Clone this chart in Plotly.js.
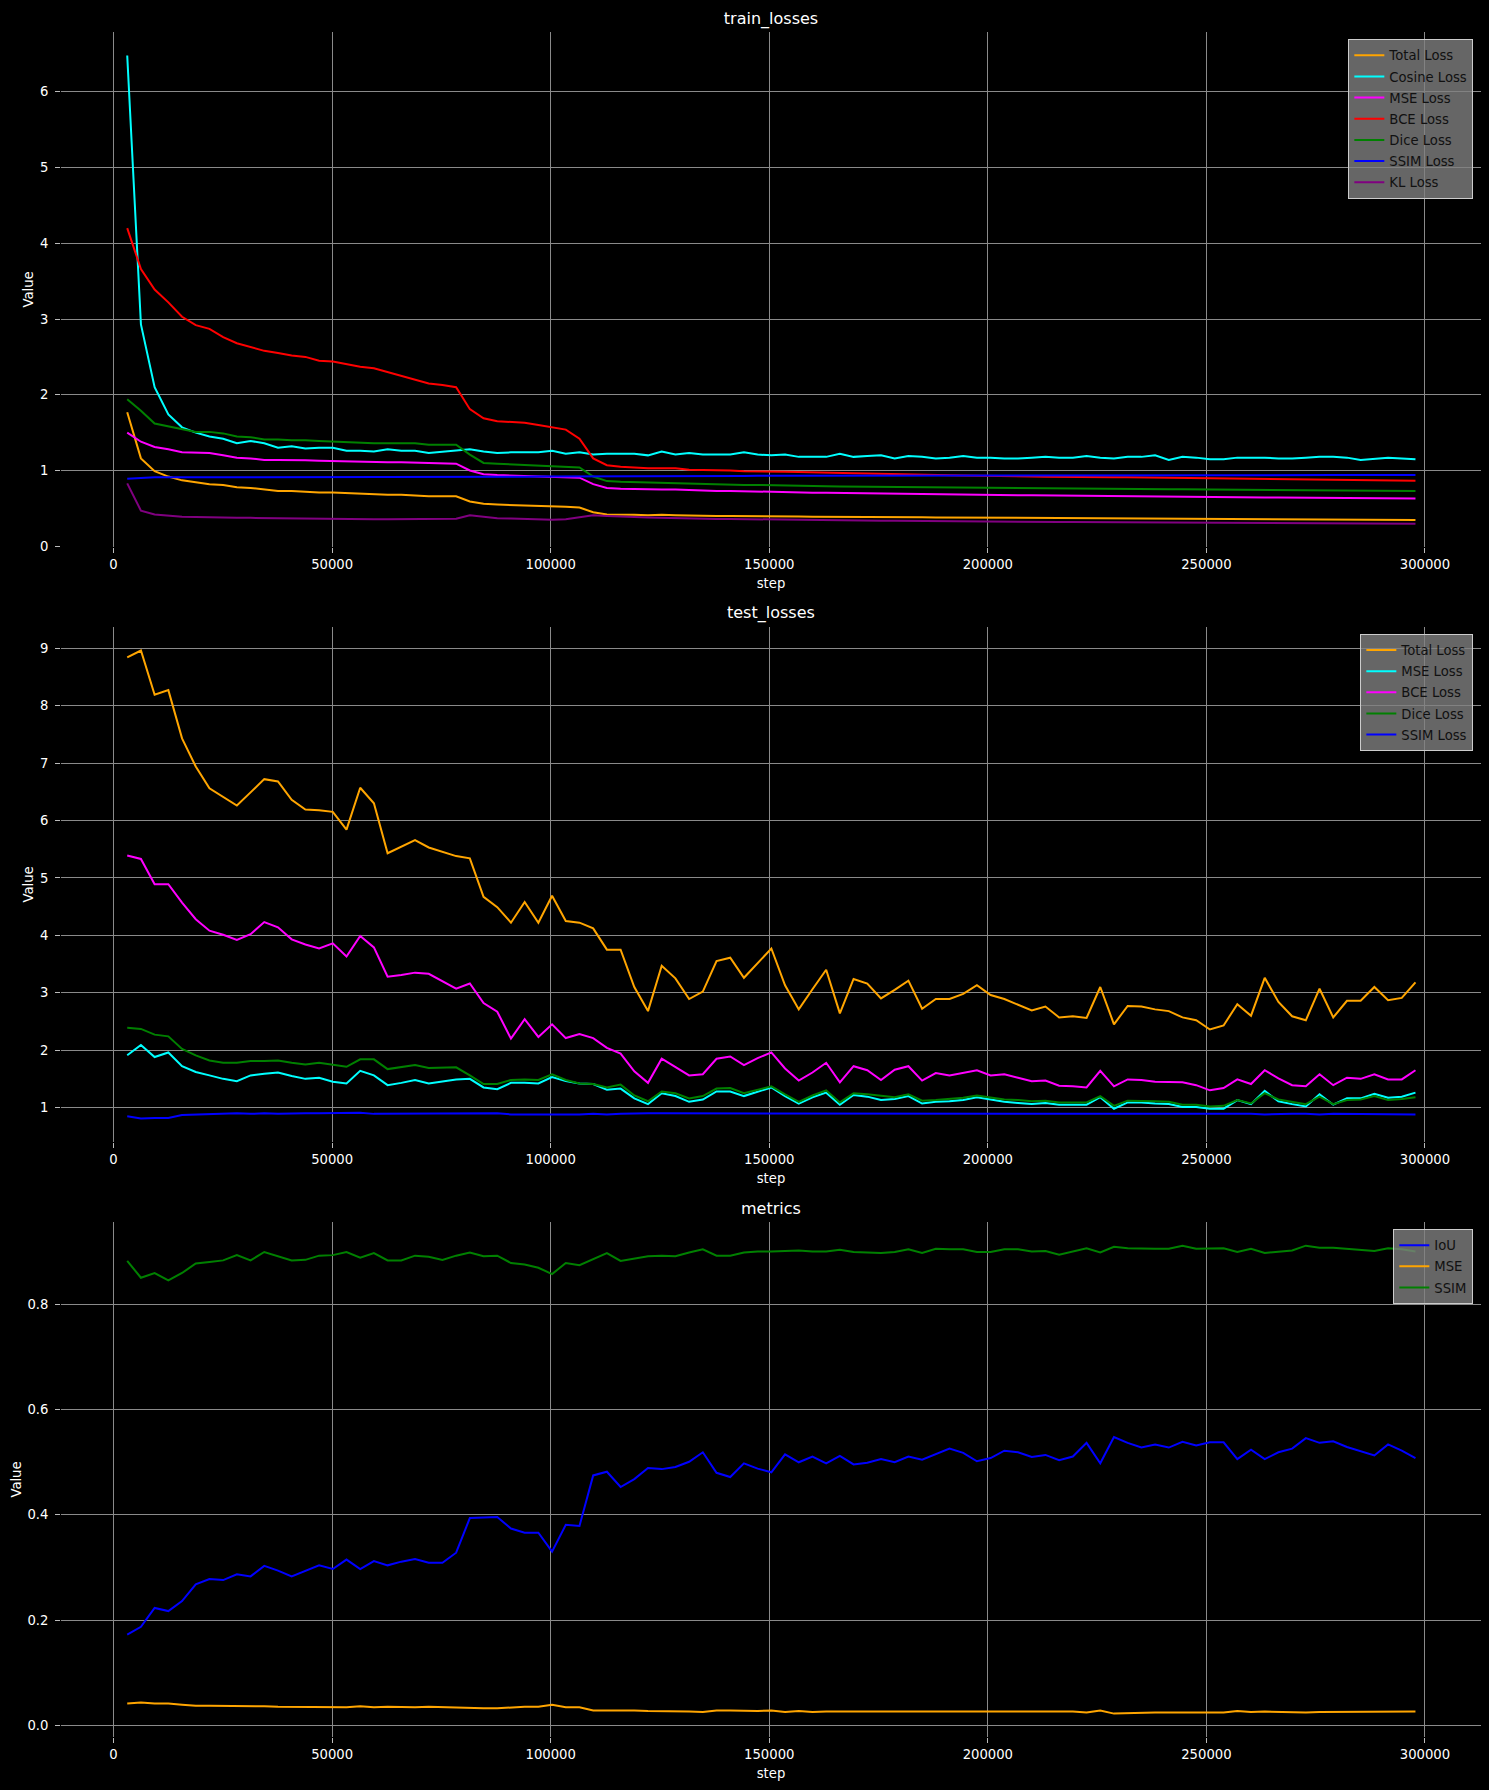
<!DOCTYPE html>
<html>
<head>
<meta charset="utf-8">
<script src="https://cdn.plot.ly/plotly-3.0.1.min.js"></script>
<style>
html, body { margin: 0; padding: 0; background: #000; }
#chart { width: 1489px; height: 1790px; }
</style>
</head>
<body>
<div id="chart"></div>
<script>
// ---------------- data ----------------
const steps = [
  3135, 6270, 9405, 12540, 15675, 18810, 21945, 25080, 28215, 31350,
  34485, 37620, 40755, 43890, 47025, 50160, 53295, 56430, 59565, 62700,
  65835, 68970, 72105, 75240, 78375, 81510, 84645, 87780, 90915, 94050,
  97185, 100320, 103455, 106590, 109725, 112860, 115995, 119130, 122265, 125400,
  128535, 131670, 134805, 137940, 141075, 144210, 147345, 150480, 153615, 156750,
  159885, 163020, 166155, 169290, 172425, 175560, 178695, 181830, 184965, 188100,
  191235, 194370, 197505, 200640, 203775, 206910, 210045, 213180, 216315, 219450,
  222585, 225720, 228855, 231990, 235125, 238260, 241395, 244530, 247665, 250800,
  253935, 257070, 260205, 263340, 266475, 269610, 272745, 275880, 279015, 282150,
  285285, 288420, 291555, 294690, 297825
];

// train_losses
const trainTotal = [
  1.77, 1.16, 0.99, 0.92, 0.87, 0.84, 0.82, 0.81, 0.78, 0.77,
  0.75, 0.73, 0.73, 0.72, 0.71, 0.71, 0.70, 0.69, 0.69, 0.68,
  0.68, 0.67, 0.66, 0.66, 0.66, 0.59, 0.56, 0.55, 0.545, 0.54,
  0.53, 0.53, 0.52, 0.51, 0.45, 0.42, 0.42, 0.415, 0.41, 0.415,
  0.41, 0.405, 0.405, 0.40, 0.40, 0.40, 0.395, 0.395, 0.393, 0.392,
  0.39, 0.39, 0.388, 0.387, 0.386, 0.385, 0.384, 0.383, 0.382, 0.38,
  0.379, 0.378, 0.377, 0.376, 0.375, 0.374, 0.373, 0.372, 0.371, 0.37,
  0.369, 0.368, 0.367, 0.367, 0.366, 0.365, 0.368, 0.363, 0.362, 0.36,
  0.359, 0.358, 0.358, 0.357, 0.356, 0.356, 0.355, 0.355, 0.354, 0.353,
  0.352, 0.351, 0.35, 0.349, 0.348
];
const trainCosine = [
  6.48, 2.93, 2.10, 1.74, 1.57, 1.50, 1.45, 1.42, 1.36, 1.39,
  1.36, 1.30, 1.32, 1.29, 1.30, 1.30, 1.26, 1.26, 1.25, 1.28,
  1.26, 1.26, 1.23, 1.25, 1.26, 1.28, 1.25, 1.23, 1.24, 1.24,
  1.24, 1.26, 1.22, 1.24, 1.21, 1.22, 1.22, 1.22, 1.20, 1.25,
  1.21, 1.23, 1.21, 1.21, 1.21, 1.24, 1.21, 1.20, 1.21, 1.18,
  1.18, 1.18, 1.22, 1.18, 1.19, 1.20, 1.16, 1.19, 1.18, 1.16,
  1.17, 1.19, 1.17, 1.17, 1.16, 1.16, 1.17, 1.18, 1.17, 1.17,
  1.19, 1.17, 1.16, 1.18, 1.18, 1.20, 1.14, 1.18, 1.17, 1.15,
  1.15, 1.17, 1.17, 1.17, 1.16, 1.16, 1.17, 1.18, 1.18, 1.17,
  1.14, 1.15, 1.17, 1.16, 1.15
];
const trainMSE = [
  1.50, 1.38, 1.31, 1.28, 1.24, 1.23, 1.23, 1.20, 1.17, 1.16,
  1.14, 1.14, 1.14, 1.135, 1.13, 1.125, 1.12, 1.12, 1.115, 1.11,
  1.11, 1.105, 1.10, 1.095, 1.09, 1.00, 0.95, 0.94, 0.935, 0.93,
  0.92, 0.915, 0.91, 0.905, 0.82, 0.77, 0.76, 0.755, 0.75, 0.75,
  0.75, 0.74, 0.735, 0.73, 0.73, 0.725, 0.72, 0.715, 0.712, 0.71,
  0.707, 0.705, 0.702, 0.70, 0.698, 0.695, 0.693, 0.69, 0.688, 0.686,
  0.684, 0.682, 0.68, 0.678, 0.676, 0.674, 0.672, 0.67, 0.668, 0.667,
  0.666, 0.664, 0.662, 0.66, 0.659, 0.658, 0.656, 0.655, 0.654, 0.652,
  0.65, 0.648, 0.647, 0.645, 0.644, 0.642, 0.641, 0.64, 0.638, 0.637,
  0.636, 0.634, 0.633, 0.632, 0.63
];
const trainBCE = [
  4.20, 3.66, 3.39, 3.22, 3.03, 2.92, 2.87, 2.76, 2.68, 2.63,
  2.58, 2.55, 2.52, 2.50, 2.45, 2.44, 2.40, 2.37, 2.35, 2.30,
  2.26, 2.21, 2.15, 2.13, 2.10, 1.81, 1.69, 1.65, 1.64, 1.63,
  1.60, 1.57, 1.54, 1.42, 1.16, 1.07, 1.05, 1.04, 1.03, 1.03,
  1.03, 1.01, 1.01, 1.00, 1.00, 0.99, 0.99, 0.99, 0.985, 0.98,
  0.978, 0.975, 0.97, 0.965, 0.96, 0.955, 0.952, 0.95, 0.945, 0.94,
  0.937, 0.935, 0.93, 0.925, 0.922, 0.92, 0.92, 0.918, 0.915, 0.915,
  0.913, 0.912, 0.91, 0.91, 0.908, 0.905, 0.902, 0.905, 0.902, 0.90,
  0.895, 0.893, 0.892, 0.89, 0.888, 0.885, 0.882, 0.883, 0.88, 0.878,
  0.875, 0.87, 0.868, 0.866, 0.865
];
const trainDice = [
  1.94, 1.79, 1.62, 1.58, 1.54, 1.51, 1.51, 1.49, 1.45, 1.44,
  1.41, 1.41, 1.40, 1.40, 1.39, 1.38, 1.37, 1.36, 1.36, 1.36,
  1.36, 1.36, 1.34, 1.34, 1.34, 1.21, 1.10, 1.09, 1.08, 1.07,
  1.06, 1.05, 1.05, 1.04, 0.92, 0.86, 0.85, 0.845, 0.84, 0.84,
  0.835, 0.83, 0.825, 0.82, 0.815, 0.81, 0.81, 0.805, 0.80, 0.798,
  0.795, 0.792, 0.79, 0.788, 0.786, 0.784, 0.782, 0.78, 0.778, 0.776,
  0.774, 0.772, 0.77, 0.768, 0.767, 0.766, 0.764, 0.763, 0.762, 0.761,
  0.76, 0.758, 0.757, 0.756, 0.755, 0.754, 0.752, 0.751, 0.75, 0.749,
  0.748, 0.746, 0.745, 0.744, 0.743, 0.741, 0.74, 0.739, 0.738, 0.736,
  0.735, 0.733, 0.732, 0.731, 0.73
];
const trainSSIM = [
  0.89, 0.905, 0.91, 0.91, 0.91, 0.91, 0.91, 0.912, 0.912, 0.912,
  0.912, 0.912, 0.913, 0.913, 0.913, 0.913, 0.914, 0.914, 0.914, 0.914,
  0.915, 0.915, 0.915, 0.915, 0.916, 0.916, 0.917, 0.918, 0.918, 0.919,
  0.92, 0.92, 0.921, 0.922, 0.923, 0.924, 0.925, 0.925, 0.926, 0.926,
  0.927, 0.927, 0.928, 0.928, 0.929, 0.929, 0.93, 0.93, 0.93, 0.931,
  0.931, 0.931, 0.932, 0.932, 0.932, 0.933, 0.933, 0.933, 0.934, 0.934,
  0.934, 0.935, 0.935, 0.935, 0.935, 0.936, 0.936, 0.936, 0.936, 0.937,
  0.937, 0.937, 0.937, 0.938, 0.938, 0.938, 0.938, 0.938, 0.939, 0.939,
  0.939, 0.939, 0.939, 0.94, 0.94, 0.94, 0.94, 0.94, 0.94, 0.941,
  0.941, 0.941, 0.941, 0.941, 0.941
];
const trainKL = [
  0.83, 0.47, 0.42, 0.40, 0.39, 0.385, 0.38, 0.378, 0.376, 0.375,
  0.372, 0.37, 0.366, 0.364, 0.362, 0.36, 0.36, 0.358, 0.357, 0.357,
  0.358, 0.36, 0.36, 0.362, 0.362, 0.41, 0.385, 0.37, 0.365, 0.36,
  0.355, 0.35, 0.355, 0.38, 0.41, 0.40, 0.39, 0.385, 0.38, 0.375,
  0.37, 0.365, 0.362, 0.36, 0.36, 0.357, 0.355, 0.353, 0.35, 0.348,
  0.346, 0.344, 0.342, 0.34, 0.338, 0.336, 0.335, 0.333, 0.332, 0.33,
  0.329, 0.328, 0.327, 0.326, 0.325, 0.324, 0.323, 0.322, 0.321, 0.32,
  0.319, 0.318, 0.317, 0.316, 0.315, 0.314, 0.313, 0.312, 0.311, 0.31,
  0.309, 0.308, 0.307, 0.306, 0.305, 0.305, 0.304, 0.303, 0.302, 0.302,
  0.301, 0.30, 0.30, 0.299, 0.298
];

// test_losses
const testTotal = [
  8.84, 8.96, 8.19, 8.27, 7.43, 6.94, 6.56, 6.41, 6.26, 6.49,
  6.72, 6.68, 6.36, 6.19, 6.18, 6.15, 5.84, 6.57, 6.30, 5.43,
  5.54, 5.66, 5.53, 5.46, 5.38, 5.34, 4.67, 4.49, 4.22, 4.58,
  4.22, 4.69, 4.25, 4.22, 4.12, 3.75, 3.75, 3.10, 2.68, 3.47,
  3.25, 2.89, 3.02, 3.55, 3.61, 3.26, 3.51, 3.77, 3.13, 2.71,
  3.06, 3.40, 2.64, 3.24, 3.16, 2.90, 3.05, 3.21, 2.72, 2.89,
  2.89, 2.98, 3.13, 2.96, 2.89, 2.79, 2.69, 2.76, 2.57, 2.59,
  2.56, 3.10, 2.45, 2.77, 2.76, 2.71, 2.68, 2.57, 2.52, 2.36,
  2.43, 2.80, 2.60, 3.26, 2.84, 2.59, 2.52, 3.07, 2.57, 2.86,
  2.86, 3.10, 2.87, 2.91, 3.18
];
const testMSE = [
  1.91, 2.09, 1.88, 1.96, 1.72, 1.62, 1.56, 1.50, 1.46, 1.56,
  1.59, 1.61, 1.55, 1.50, 1.52, 1.45, 1.42, 1.64, 1.56, 1.39,
  1.43, 1.48, 1.42, 1.46, 1.49, 1.50, 1.35, 1.32, 1.43, 1.43,
  1.42, 1.53, 1.46, 1.42, 1.41, 1.31, 1.33, 1.16, 1.06, 1.25,
  1.20, 1.10, 1.14, 1.28, 1.28, 1.20, 1.27, 1.35, 1.20, 1.07,
  1.18, 1.26, 1.05, 1.22, 1.19, 1.13, 1.15, 1.20, 1.07, 1.10,
  1.11, 1.13, 1.18, 1.14, 1.10, 1.08, 1.06, 1.08, 1.05, 1.05,
  1.05, 1.18, 0.98, 1.09, 1.09, 1.07, 1.06, 1.01, 1.01, 0.98,
  0.98, 1.13, 1.06, 1.29, 1.11, 1.06, 1.02, 1.23, 1.05, 1.16,
  1.16, 1.24, 1.17, 1.19, 1.26
];
const testBCE = [
  5.39, 5.33, 4.89, 4.89, 4.57, 4.28, 4.08, 4.01, 3.92, 4.02,
  4.23, 4.14, 3.93, 3.84, 3.77, 3.86, 3.63, 3.99, 3.79, 3.28,
  3.31, 3.35, 3.33, 3.20, 3.07, 3.16, 2.82, 2.67, 2.20, 2.54,
  2.23, 2.45, 2.21, 2.28, 2.21, 2.04, 1.94, 1.63, 1.43, 1.85,
  1.71, 1.56, 1.58, 1.85, 1.89, 1.74, 1.86, 1.96, 1.68, 1.47,
  1.61, 1.78, 1.44, 1.72, 1.65, 1.48, 1.66, 1.72, 1.47, 1.60,
  1.56, 1.61, 1.65, 1.56, 1.58, 1.52, 1.46, 1.47, 1.38, 1.37,
  1.35, 1.64, 1.37, 1.49, 1.48, 1.45, 1.44, 1.44, 1.39, 1.30,
  1.34, 1.49, 1.41, 1.65, 1.51, 1.39, 1.37, 1.58, 1.39, 1.52,
  1.50, 1.58, 1.49, 1.49, 1.65
];
const testDice = [
  2.39, 2.37, 2.27, 2.24, 2.02, 1.91, 1.82, 1.78, 1.78, 1.81,
  1.81, 1.82, 1.78, 1.75, 1.78, 1.75, 1.71, 1.84, 1.84, 1.67,
  1.70, 1.74, 1.69, 1.70, 1.70, 1.56, 1.41, 1.41, 1.48, 1.49,
  1.48, 1.58, 1.48, 1.42, 1.41, 1.35, 1.40, 1.21, 1.11, 1.28,
  1.25, 1.16, 1.20, 1.33, 1.34, 1.25, 1.31, 1.37, 1.23, 1.10,
  1.21, 1.30, 1.09, 1.25, 1.23, 1.20, 1.18, 1.23, 1.12, 1.13,
  1.15, 1.17, 1.21, 1.18, 1.14, 1.13, 1.11, 1.12, 1.09, 1.09,
  1.09, 1.20, 1.03, 1.12, 1.12, 1.11, 1.10, 1.05, 1.05, 1.02,
  1.03, 1.13, 1.07, 1.25, 1.14, 1.10, 1.06, 1.19, 1.06, 1.13,
  1.14, 1.20, 1.13, 1.15, 1.18
];
const testSSIM = [
  0.85, 0.81, 0.82, 0.82, 0.87, 0.88, 0.88, 0.89, 0.90, 0.89,
  0.90, 0.89, 0.90, 0.90, 0.90, 0.90, 0.91, 0.91, 0.89, 0.89,
  0.90, 0.89, 0.90, 0.89, 0.90, 0.90, 0.90, 0.90, 0.88, 0.88,
  0.87, 0.87, 0.88, 0.88, 0.89, 0.88, 0.89, 0.90, 0.90, 0.90,
  0.90, 0.90, 0.90, 0.90, 0.89, 0.90, 0.90, 0.89, 0.89, 0.89,
  0.90, 0.89, 0.89, 0.90, 0.89, 0.89, 0.90, 0.90, 0.89, 0.89,
  0.89, 0.90, 0.89, 0.89, 0.90, 0.90, 0.90, 0.89, 0.89, 0.90,
  0.90, 0.89, 0.90, 0.90, 0.90, 0.90, 0.90, 0.90, 0.90, 0.89,
  0.89, 0.89, 0.89, 0.88, 0.89, 0.89, 0.89, 0.88, 0.89, 0.89,
  0.89, 0.88, 0.89, 0.88, 0.88
];

// metrics
const metricIoU = [
  0.172, 0.187, 0.223, 0.217, 0.236, 0.268, 0.278, 0.276, 0.287, 0.283,
  0.303, 0.294, 0.283, 0.294, 0.304, 0.297, 0.315, 0.297, 0.312, 0.304,
  0.311, 0.316, 0.309, 0.309, 0.328, 0.394, 0.395, 0.396, 0.374, 0.366,
  0.366, 0.330, 0.381, 0.379, 0.475, 0.482, 0.453, 0.468, 0.489, 0.487,
  0.491, 0.501, 0.519, 0.480, 0.472, 0.498, 0.488, 0.481, 0.515, 0.500,
  0.511, 0.498, 0.512, 0.496, 0.499, 0.506, 0.500, 0.511, 0.505, 0.516,
  0.526, 0.518, 0.502, 0.508, 0.522, 0.519, 0.510, 0.514, 0.504, 0.511,
  0.537, 0.498, 0.548, 0.537, 0.528, 0.534, 0.528, 0.539, 0.532, 0.538,
  0.538, 0.506, 0.524, 0.506, 0.519, 0.526, 0.546, 0.537, 0.540, 0.529,
  0.521, 0.513, 0.534, 0.522, 0.508
];
const metricMSE = [
  0.041, 0.043, 0.041, 0.041, 0.039, 0.037, 0.037, 0.037, 0.036, 0.036,
  0.036, 0.035, 0.035, 0.035, 0.035, 0.034, 0.034, 0.036, 0.034, 0.035,
  0.034, 0.034, 0.035, 0.034, 0.033, 0.032, 0.032, 0.032, 0.034, 0.035,
  0.035, 0.039, 0.034, 0.034, 0.028, 0.028, 0.029, 0.028, 0.027, 0.027,
  0.027, 0.026, 0.025, 0.028, 0.028, 0.027, 0.027, 0.028, 0.025, 0.027,
  0.025, 0.026, 0.026, 0.025, 0.026, 0.026, 0.025, 0.026, 0.025, 0.025,
  0.025, 0.026, 0.026, 0.025, 0.025, 0.025, 0.025, 0.025, 0.026, 0.026,
  0.024, 0.028, 0.022, 0.023, 0.024, 0.024, 0.024, 0.024, 0.024, 0.024,
  0.024, 0.027, 0.025, 0.026, 0.025, 0.025, 0.024, 0.025, 0.025, 0.025,
  0.025, 0.026, 0.025, 0.025, 0.026
];
const metricSSIM = [
  0.883, 0.851, 0.860, 0.846, 0.860, 0.878, 0.881, 0.884, 0.894, 0.884,
  0.900, 0.892, 0.884, 0.885, 0.893, 0.894, 0.900, 0.889, 0.898, 0.884,
  0.884, 0.893, 0.891, 0.885, 0.893, 0.899, 0.892, 0.893, 0.879, 0.876,
  0.870, 0.858, 0.879, 0.875, 0.886, 0.898, 0.883, 0.887, 0.892, 0.893,
  0.892, 0.899, 0.905, 0.893, 0.893, 0.899, 0.901, 0.901, 0.902, 0.903,
  0.901, 0.901, 0.904, 0.900, 0.899, 0.898, 0.900, 0.905, 0.898, 0.906,
  0.905, 0.905, 0.900, 0.900, 0.905, 0.905, 0.901, 0.902, 0.895, 0.901,
  0.907, 0.899, 0.910, 0.907, 0.906, 0.906, 0.906, 0.912, 0.906, 0.906,
  0.907, 0.900, 0.906, 0.898, 0.901, 0.903, 0.912, 0.908, 0.908, 0.906,
  0.903, 0.902, 0.907, 0.905, 0.901
];

const xTickVals = [0, 50000, 100000, 150000, 200000, 250000, 300000];
const xTickText = ['0', '50000', '100000', '150000', '200000', '250000', '300000'];
const titles = ['train_losses', 'test_losses', 'metrics'];

// ---------------- build ----------------
const FONT = '"DejaVu Sans", Verdana, sans-serif';
const TICKSIZE = 13.2;

function trace(y, name, color, ax, lg) {
  return {
    type: 'scatter', mode: 'lines', x: steps, y: y, name: name,
    line: { color: color, width: 2 },
    xaxis: 'x' + ax, yaxis: 'y' + ax,
    legend: lg, legendgroup: lg + '_' + name, hoverinfo: 'skip'
  };
}

const data = [
  trace(trainTotal, 'Total Loss', '#FFA500', '', 'legend'),
  trace(trainCosine, 'Cosine Loss', '#00FFFF', '', 'legend'),
  trace(trainMSE, 'MSE Loss', '#FF00FF', '', 'legend'),
  trace(trainBCE, 'BCE Loss', '#FF0000', '', 'legend'),
  trace(trainDice, 'Dice Loss', '#008000', '', 'legend'),
  trace(trainSSIM, 'SSIM Loss', '#0000FF', '', 'legend'),
  trace(trainKL, 'KL Loss', '#800080', '', 'legend'),

  trace(testTotal, 'Total Loss', '#FFA500', '2', 'legend2'),
  trace(testMSE, 'MSE Loss', '#00FFFF', '2', 'legend2'),
  trace(testBCE, 'BCE Loss', '#FF00FF', '2', 'legend2'),
  trace(testDice, 'Dice Loss', '#008000', '2', 'legend2'),
  trace(testSSIM, 'SSIM Loss', '#0000FF', '2', 'legend2'),

  trace(metricIoU, 'IoU', '#0000FF', '3', 'legend3'),
  trace(metricMSE, 'MSE', '#FFA500', '3', 'legend3'),
  trace(metricSSIM, 'SSIM', '#008000', '3', 'legend3')
];

const tickFont = { family: FONT, size: TICKSIZE, color: '#ffffff' };
const labelFont = { family: FONT, size: TICKSIZE, color: '#ffffff' };

function xaxis(anchor) {
  return {
    anchor: anchor, domain: [0, 1],
    range: [-12014, 312815],
    tickmode: 'array', tickvals: xTickVals, ticktext: xTickText,
    showgrid: true, gridcolor: '#8a8a8a', gridwidth: 1,
    zeroline: false, showline: false,
    ticks: 'outside', ticklen: 5, tickwidth: 1, tickcolor: '#bbbbbb',
    ticklabelstandoff: 0,
    tickfont: tickFont,
    title: { text: 'step', font: labelFont, standoff: 7.5 }
  };
}
function yaxis(domain, range, tickvals, fmt, standoff) {
  return {
    domain: domain, range: range,
    tickmode: 'array', tickvals: tickvals,
    ticktext: tickvals.map(v => fmt(v)),
    showgrid: true, gridcolor: '#8a8a8a', gridwidth: 1,
    zeroline: false, showline: false,
    ticks: 'outside', ticklen: 5, tickwidth: 1, tickcolor: '#bbbbbb',
    ticklabelstandoff: 4,
    tickfont: tickFont,
    title: { text: 'Value', font: labelFont, standoff: standoff }
  };
}

const legendBase = {
  bgcolor: 'rgba(128,128,128,0.8)', bordercolor: '#cccccc', borderwidth: 1,
  font: { family: FONT, size: TICKSIZE, color: '#111111' },
  traceorder: 'grouped', tracegroupgap: 1,
  xanchor: 'right', yanchor: 'top', x: 0.9946, itemwidth: 30
};

const layout = {
  width: 1489, height: 1790,
  paper_bgcolor: '#000000', plot_bgcolor: '#000000',
  margin: { l: 61, r: 8, t: 32, b: 53, pad: 0 },
  font: { family: FONT, color: '#ffffff', size: TICKSIZE },
  showlegend: true,
  title: {
    text: titles[0], font: { family: FONT, size: 16, color: '#ffffff' },
    x: 0.5, xref: 'paper', xanchor: 'center',
    y: 1 - 18 / 1790, yref: 'container', yanchor: 'middle'
  },
  xaxis: xaxis('y'),
  xaxis2: xaxis('y2'),
  xaxis3: xaxis('y3'),
  yaxis: yaxis([0.69795, 1], [-0.01, 6.79], [0, 1, 2, 3, 4, 5, 6], v => String(v), 2.5),
  yaxis2: yaxis([0.34897, 0.65103], [0.40, 9.37], [1, 2, 3, 4, 5, 6, 7, 8, 9], v => String(v), 2.5),
  yaxis3: yaxis([0, 0.30205], [-0.0225, 0.957], [0, 0.2, 0.4, 0.6, 0.8], v => v.toFixed(1), 2.5),
  legend: Object.assign({}, legendBase, { y: 0.99577 }),
  legend2: Object.assign({}, legendBase, { y: 0.64698 }),
  legend3: Object.assign({}, legendBase, { y: 0.29789 }),
  annotations: [
    { text: titles[1], xref: 'paper', yref: 'paper', x: 0.5, y: (1737 - 613) / 1705,
      xanchor: 'center', yanchor: 'middle', showarrow: false,
      font: { family: FONT, size: 16, color: '#ffffff' } },
    { text: titles[2], xref: 'paper', yref: 'paper', x: 0.5, y: (1737 - 1208) / 1705,
      xanchor: 'center', yanchor: 'middle', showarrow: false,
      font: { family: FONT, size: 16, color: '#ffffff' } }
  ]
};

Plotly.newPlot('chart', data, layout, { displayModeBar: false, staticPlot: true });
</script>
</body>
</html>
